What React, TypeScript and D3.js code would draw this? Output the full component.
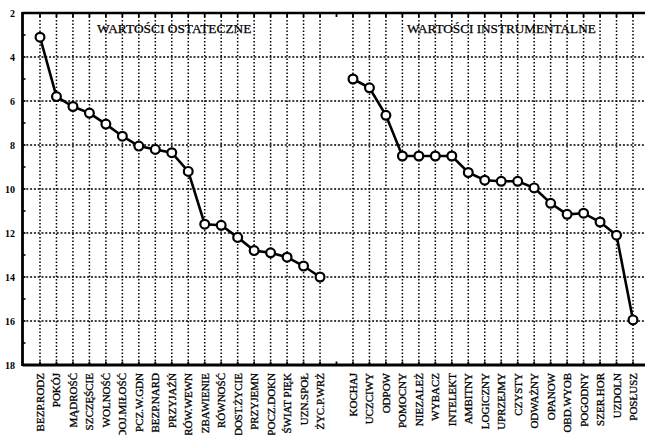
import React from "react";
import * as d3 from "d3";

const terminalLabels = [
  "BEZP.RODZ", "POKÓJ", "MĄDROŚĆ", "SZCZĘŚCIE", "WOLNOŚĆ", "DOJ.MIŁOŚĆ",
  "PCZ.W.GDN", "BEZP.NARD", "PRZYJAŹŃ", "RÓW.WEWN", "ZBAWIENIE", "RÓWNOŚĆ",
  "DOST.ŻYCIE", "PRZYJEMN", "POCZ.DOKN", "ŚWIAT PIĘK", "UZN.SPOŁ", "ŻYC.P.WRŻ",
];
const terminalValues = [3.1, 5.8, 6.25, 6.55, 7.05, 7.6, 8.05, 8.2, 8.35, 9.2, 11.6, 11.65, 12.2, 12.8, 12.9, 13.1, 13.5, 14.0];

const instrumentalLabels = [
  "KOCHAJ", "UCZCIWY", "ODPOW", "POMOCNY", "NIEZALEŻ", "WYBACZ", "INTELEKT",
  "AMBITNY", "LOGICZNY", "UPRZEJMY", "CZYSTY", "ODWAŻNY", "OPANOW", "OBD.WYOB",
  "POGODNY", "SZER.HOR", "UZDOLN", "POSŁUSZ",
];
const instrumentalValues = [5.0, 5.4, 6.65, 8.5, 8.5, 8.5, 8.5, 9.25, 9.6, 9.65, 9.65, 9.95, 10.65, 11.15, 11.1, 11.5, 12.1, 15.95];

const yTicks = [2, 4, 6, 8, 10, 12, 14, 16, 18];
const titles = ["WARTOŚCI OSTATECZNE", "WARTOŚCI INSTRUMENTALNE"];

const W = 645;
const H = 435;
const left = 22.5;
const top = 13;
const bottom = 365;

export default function App() {
  const keys = [...terminalLabels.map((_, i) => "t" + i), "gap", ...instrumentalLabels.map((_, i) => "i" + i)];
  const labels = [...terminalLabels, "", ...instrumentalLabels];
  const x = d3.scalePoint<string>().domain(keys).range([40, 633]);
  const y = d3.scaleLinear().domain([2, 18]).range([top, bottom]);

  const tData = terminalValues.map((v, i) => ({ k: "t" + i, v }));
  const iData = instrumentalValues.map((v, i) => ({ k: "i" + i, v }));
  const line = d3
    .line<{ k: string; v: number }>()
    .x((d) => x(d.k)!)
    .y((d) => y(d.v));

  const minorTicks = d3.range(2, 19, 1);
  const gridY = yTicks.filter((t) => t > 2 && t < 18);
  const font = "'Liberation Serif', 'DejaVu Serif', serif";

  return (
    <svg width={W} height={H} style={{ position: "absolute", left: 0, top: 0, background: "#fff" }}>
      <rect x={0} y={0} width={W} height={H} fill="#fff" />
      {/* vertical grid */}
      {keys.map((k) =>
        k === "gap" ? null : (
          <line key={"vg" + k} x1={x(k)} x2={x(k)} y1={top} y2={bottom} stroke="#000" strokeWidth={1.5} strokeDasharray="1.5 2" />
        )
      )}
      {/* horizontal grid */}
      {gridY.map((t) => (
        <line key={"hg" + t} x1={left} x2={W} y1={y(t)} y2={y(t)} stroke="#000" strokeWidth={1.5} strokeDasharray="2 1.8" />
      ))}
      {/* axes */}
      <line x1={left} x2={W} y1={top} y2={top} stroke="#000" strokeWidth={2.4} />
      <line x1={left} x2={W} y1={bottom} y2={bottom} stroke="#000" strokeWidth={2.8} />
      <line x1={left} x2={left} y1={top - 1} y2={bottom + 1} stroke="#000" strokeWidth={2.8} />
      {/* category ticks */}
      {keys.map((k) => (
        <g key={"ct" + k}>
          <line x1={x(k)} x2={x(k)} y1={top} y2={top + 4} stroke="#000" strokeWidth={1.8} />
          <line x1={x(k)} x2={x(k)} y1={bottom} y2={bottom - 3.5} stroke="#000" strokeWidth={1.8} />
        </g>
      ))}
      {/* left minor ticks */}
      {minorTicks.map((t) => (
        <line key={"mt" + t} x1={left} x2={left + 3} y1={y(t)} y2={y(t)} stroke="#000" strokeWidth={1.6} />
      ))}
      {/* y labels */}
      {yTicks.map((t) => (
        <text key={"yl" + t} x={15} y={y(t)} dy="0.35em" textAnchor="end" fontFamily={font} fontWeight="bold" fontSize={10} fill="#000">
          {t}
        </text>
      ))}
      {/* titles */}
      <text x={97} y={33} fontFamily={font} fontSize={13.4} fill="#000" stroke="#000" strokeWidth={0.25}>{titles[0]}</text>
      <text x={407} y={33} fontFamily={font} fontSize={13.2} fill="#000" stroke="#000" strokeWidth={0.25}>{titles[1]}</text>
      {/* lines */}
      <path d={line(tData)!} fill="none" stroke="#000" strokeWidth={2.6} />
      <path d={line(iData)!} fill="none" stroke="#000" strokeWidth={2.6} />
      {[...tData, ...iData].map((d) => (
        <circle key={"c" + d.k} cx={x(d.k)} cy={y(d.v)} r={4.4} fill="#fff" stroke="#000" strokeWidth={2.2} />
      ))}
      {/* category labels */}
      {keys.map((k, i) =>
        labels[i] ? (
          <text
            key={"xl" + k}
            transform={`translate(${x(k)! + 4},373) rotate(-90)`}
            textAnchor="end"
            fontFamily={font}
            fontSize={11}
            fill="#000"
            stroke="#000"
            strokeWidth={0.3}
          >
            {labels[i]}
          </text>
        ) : null
      )}
    </svg>
  );
}
